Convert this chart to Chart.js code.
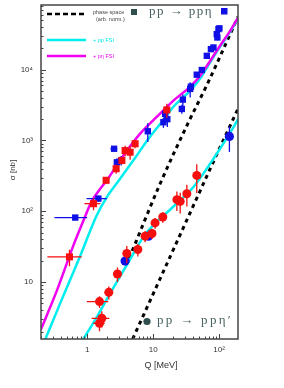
<!DOCTYPE html>
<html>
<head>
<meta charset="utf-8">
<script src="https://cdn.jsdelivr.net/npm/chart.js@4.4.0/dist/chart.umd.min.js"></script>
<style>
  html, body { margin: 0; padding: 0; background: #fff; }
  canvas { display: block; }
</style>
</head>
<body>
<canvas id="xsChart" width="284" height="388"></canvas>
<script>
// axis ranges and tick labels
const qMin = 0.2, qMax = 193;
const sigMin = 1.57, sigMax = 82000;
const xDecades = [0.1, 1, 10, 100];
const yDecades = [1, 10, 100, 1000, 10000];
const xTickLabels = ['', '1', '10', '10²'];
const yTickLabels = ['', '10', '10²', '10³', '10⁴'];

// pp -> pp eta  : [Q (MeV), sigma (nb), dQ, dSigma]
const etaBlue = [
  [0.66, 81.5, 0.34, 6], [1.48, 151, 0.5, 15], [2.56, 764, 0.3, 40], [2.82, 492, 0.15, 70],
  [3.27, 523, 0, 80], [8.3, 1350, 0, 400], [14.3, 1810, 0, 300], [15.2, 2380, 0, 500],
  [16.4, 2000, 0, 450], [27.2, 2790, 0, 400], [28.2, 3780, 0, 700], [36.4, 5350, 0, 1300],
  [37.3, 5760, 0, 600], [45.8, 8500, 0, 600], [54.6, 9900, 0, 900], [65, 15700, 0, 0],
  [75, 19500, 0, 0], [82, 20600, 0, 0], [92, 31800, 0, 3000], [94, 28500, 0, 2500],
  [97.6, 37400, 0, 4000], [101, 38400, 0, 0]
];
const etaRed = [
  [0.54, 22.7, 0.29, 6], [1.25, 128, 0.34, 25], [1.94, 274, 0.15, 30], [2.75, 399, 0.15, 60],
  [3.36, 523, 0.2, 60], [3.76, 720, 0.2, 120], [4.48, 683, 0.3, 150], [5.33, 900, 0.3, 120],
  [16.1, 2700, 0, 600]
];

// pp -> pp eta'
const etaPrimeRed = [
  [1.54, 2.62, 0.3, 0.6], [1.67, 3.08, 0.5, 0.8], [1.54, 5.3, 0.55, 1.0], [2.13, 7.16, 0.3, 1.5],
  [2.88, 13, 0.2, 3], [3.99, 25.4, 0, 7], [5.86, 28.9, 0.3, 6], [7.56, 44.5, 0.3, 8],
  [9.6, 48.5, 0.4, 8], [10.7, 68.5, 0.4, 12], [14.0, 83, 0.5, 14], [22.9, 146, 0, 45],
  [25.7, 138, 0, 45], [32.4, 177, 0, 60], [45.8, 321, 0, 140]
];
const etaPrimeBlue = [
  [3.76, 19.8, 0, 0], [8.5, 44.5, 0, 0], [143, 1140, 0, 450]
];

// model curves: [Q, sigma]
const etaPhaseSpace = [[4.33, 21.6], [12.75, 245], [34.3, 1810], [65, 6050], [147, 31800], [193, 56000]];
const etaPpFsi = [
  [0.23, 1.52], [0.39, 5.0], [0.78, 23], [1.4, 88], [2.0, 160], [3.0, 270], [5.66, 615],
  [8.5, 1060], [14.3, 1950], [20.3, 3000], [36.4, 5060], [51.6, 7500], [73.4, 12800],
  [103, 21000], [147, 34500], [193, 53000]
];
const etaPetaFsi = [
  [0.2, 2.15], [0.35, 7.7], [0.62, 33], [0.88, 74], [1.18, 140], [1.5, 195], [1.99, 274],
  [3.55, 614], [6.35, 1250], [11.3, 2150], [20.3, 3660], [36.4, 5770], [51.6, 8230],
  [73.4, 13400], [103, 21800], [147, 35400], [193, 54000]
];
const etaPrimePhaseSpace = [[4.89, 1.57], [22.9, 37], [103.5, 805], [193, 2800]];
const etaPrimePpFsi = [
  [0.86, 1.52], [1.4, 3.2], [2.23, 6.9], [4.0, 17.5], [7.13, 43.5], [10.5, 66], [17, 100],
  [25, 140], [40.8, 220], [82, 552], [165, 1540], [193, 2000]
];

const RED = 'rgb(245,15,15)';
const BLUE = 'rgb(15,15,230)';
const CYAN = 'rgb(0,238,238)';
const MAGENTA = 'rgb(240,0,240)';
const SLATE = '#2f4f4f';

function tickValues(decades, lo, hi) {
  const out = [];
  decades.forEach(d => {
    for (let m = 1; m <= 9; m++) {
      const v = m * d;
      if (v >= lo * 0.999 && v <= hi * 1.001) out.push(v);
    }
  });
  return out;
}
const xTicks = tickValues(xDecades, qMin, qMax);
const yTicks = tickValues(yDecades, sigMin, sigMax);

function decadeLabel(v, decades, labels) {
  const i = decades.findIndex(d => Math.abs(d - v) / d < 1e-6);
  return i >= 0 ? labels[i] : '';
}

const toXY = arr => arr.map(p => ({ x: p[0], y: p[1] }));

function curve(data, color, order, dash) {
  return {
    data: toXY(data),
    showLine: true,
    borderColor: color,
    backgroundColor: color,
    borderWidth: dash ? 3 : 2.5,
    borderDash: dash || [],
    pointRadius: 0,
    cubicInterpolationMode: 'monotone',
    clip: 0,
    order: order
  };
}

function points(data, color, style, radius, order) {
  return {
    data: toXY(data),
    errors: data,
    showLine: false,
    pointStyle: style,
    pointRadius: radius,
    borderWidth: 0,
    backgroundColor: color,
    borderColor: color,
    clip: 0,
    order: order
  };
}

// error bars drawn just before each point set
const errorBars = {
  id: 'errorBars',
  beforeDatasetDraw(chart, args) {
    const ds = chart.data.datasets[args.index];
    if (!ds.errors) return;
    const { ctx, chartArea: a, scales: { x, y } } = chart;
    ctx.save();
    ctx.beginPath();
    ctx.rect(a.left, a.top, a.right - a.left, a.bottom - a.top);
    ctx.clip();
    ctx.strokeStyle = ds.backgroundColor;
    ctx.lineWidth = 1.3;
    ds.errors.forEach(p => {
      const px = x.getPixelForValue(p[0]);
      const py = y.getPixelForValue(p[1]);
      ctx.beginPath();
      if (p[2]) {
        ctx.moveTo(x.getPixelForValue(Math.max(p[0] - p[2], 0.01)), py);
        ctx.lineTo(x.getPixelForValue(p[0] + p[2]), py);
      }
      if (p[3]) {
        ctx.moveTo(px, y.getPixelForValue(Math.max(p[1] - p[3], 0.01)));
        ctx.lineTo(px, y.getPixelForValue(p[1] + p[3]));
      }
      ctx.stroke();
    });
    ctx.restore();
  }
};

function spacedText(ctx, text, x, y, width) {
  const n = [...text].length;
  const w = ctx.measureText(text).width;
  ctx.letterSpacing = Math.max(0, (width - w) / n) + 'px';
  ctx.fillText(text, x, y);
  ctx.letterSpacing = '0px';
}

// frame, inner ticks, legend and labels
const decorations = {
  id: 'decorations',
  afterDraw(chart) {
    const { ctx, chartArea: a, scales: { x, y } } = chart;
    ctx.save();

    ctx.strokeStyle = '#444';
    ctx.lineWidth = 1;
    yTicks.forEach(v => {
      const py = Math.round(y.getPixelForValue(v)) + 0.5;
      const len = decadeLabel(v, yDecades, yDecades.map(String)) ? 5 : 2.5;
      ctx.beginPath(); ctx.moveTo(a.left, py); ctx.lineTo(a.left + len, py); ctx.stroke();
    });
    xTicks.forEach(v => {
      const px = Math.round(x.getPixelForValue(v)) + 0.5;
      const len = decadeLabel(v, xDecades, xDecades.map(String)) ? 5 : 2.5;
      ctx.beginPath(); ctx.moveTo(px, a.bottom); ctx.lineTo(px, a.bottom - len); ctx.stroke();
    });

    ctx.lineWidth = 1.5;
    ctx.strokeStyle = '#444';
    ctx.strokeRect(a.left, a.top, a.right - a.left, a.bottom - a.top);

    // axis titles
    ctx.fillStyle = '#333';
    ctx.font = '9px "Liberation Sans", Arial, sans-serif';
    ctx.textAlign = 'center';
    ctx.textBaseline = 'middle';
    ctx.fillText('Q [MeV]', 161, 366);
    ctx.save();
    ctx.translate(13, 170);
    ctx.rotate(-Math.PI / 2);
    ctx.font = '8px "Liberation Sans", Arial, sans-serif';
    ctx.fillText('σ [nb]', 0, 0);
    ctx.restore();

    // legend
    ctx.lineWidth = 2.5;
    ctx.strokeStyle = '#000';
    ctx.setLineDash([5, 3]);
    ctx.beginPath(); ctx.moveTo(47, 14); ctx.lineTo(86, 14); ctx.stroke();
    ctx.setLineDash([]);
    ctx.strokeStyle = CYAN;
    ctx.beginPath(); ctx.moveTo(47, 40); ctx.lineTo(86, 40); ctx.stroke();
    ctx.strokeStyle = MAGENTA;
    ctx.beginPath(); ctx.moveTo(47, 56); ctx.lineTo(86, 56); ctx.stroke();

    ctx.textAlign = 'left';
    ctx.font = '5.5px "Liberation Sans", Arial, sans-serif';
    ctx.fillStyle = '#444';
    ctx.fillText('phase space', 93, 12.5);
    ctx.fillText('(arb. norm.)', 96, 19.5);
    ctx.fillStyle = CYAN;
    ctx.fillText('+ pp FSI', 93, 40);
    ctx.fillStyle = MAGENTA;
    ctx.fillText('+ pη FSI', 93, 56);

    // reaction labels
    ctx.fillStyle = SLATE;
    ctx.fillRect(131, 9, 6, 6);
    ctx.fillStyle = BLUE;
    ctx.fillRect(221, 8, 6.5, 6.5);
    ctx.fillStyle = SLATE;
    ctx.beginPath(); ctx.arc(147, 321.5, 3.6, 0, Math.PI * 2); ctx.fill();

    ctx.fillStyle = '#4a6262';
    ctx.font = '13px "Liberation Serif", "Times New Roman", serif';
    spacedText(ctx, 'pp → ppη', 149, 12, 64);
    spacedText(ctx, 'pp → ppη′', 157, 321, 76);

    ctx.restore();
  }
};

const ctx = document.getElementById('xsChart').getContext('2d');
new Chart(ctx, {
  type: 'scatter',
  data: {
    datasets: [
      points(etaRed, RED, 'rect', 5, 1),
      points(etaPrimeRed, RED, 'circle', 4.5, 1),
      points(etaBlue, BLUE, 'rect', 4.5, 2),
      points(etaPrimeBlue, BLUE, 'circle', 4.6, 2),
      curve(etaPetaFsi, MAGENTA, 3),
      curve(etaPpFsi, CYAN, 4),
      curve(etaPrimePpFsi, CYAN, 4),
      curve(etaPhaseSpace, '#000', 5, [4, 4]),
      curve(etaPrimePhaseSpace, '#000', 5, [4, 4])
    ]
  },
  options: {
    responsive: false,
    animation: false,
    devicePixelRatio: 1,
    layout: { padding: { top: 4, right: 46, left: 0, bottom: 0 } },
    plugins: { legend: { display: false }, tooltip: { enabled: false } },
    scales: {
      x: {
        type: 'logarithmic',
        min: qMin,
        max: qMax,
        grid: { display: false, drawTicks: false },
        border: { display: false },
        afterFit: s => { s.height = 49; s.paddingLeft = 0; s.paddingRight = 0; },
        afterBuildTicks: s => { s.ticks = xTicks.map(v => ({ value: v })); },
        ticks: {
          autoSkip: false,
          maxRotation: 0,
          padding: 6,
          color: '#333',
          font: { family: '"Liberation Sans", Arial, sans-serif', size: 8 },
          callback: v => decadeLabel(v, xDecades, xTickLabels)
        }
      },
      y: {
        type: 'logarithmic',
        min: sigMin,
        max: sigMax,
        grid: { display: false, drawTicks: false },
        border: { display: false },
        afterFit: s => { s.width = 41; s.paddingTop = 0; s.paddingBottom = 0; },
        afterBuildTicks: s => { s.ticks = yTicks.map(v => ({ value: v })); },
        ticks: {
          autoSkip: false,
          padding: 8,
          color: '#333',
          font: { family: '"Liberation Sans", Arial, sans-serif', size: 8 },
          callback: v => decadeLabel(v, yDecades, yTickLabels)
        }
      }
    }
  },
  plugins: [errorBars, decorations]
});
</script>
</body>
</html>
